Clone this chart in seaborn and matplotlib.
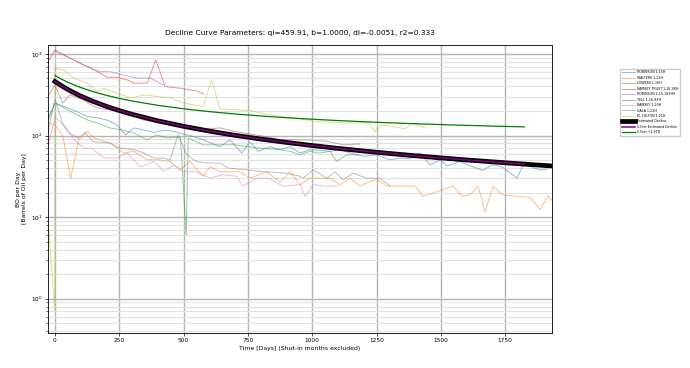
import numpy as np
import pandas as pd
import matplotlib
matplotlib.use("Agg")
import matplotlib.pyplot as plt
import seaborn as sns
from matplotlib.ticker import LogLocator, NullFormatter

# --------------------------------------------------------------------------------
# Data
# --------------------------------------------------------------------------------
WELLS = ["ROBINSON 1-15H", "WALTERS 1-22H", "LOWERS 1-16H", "RAMSEY TRUST 1-16-9XH",
         "ROBINSON 2-15-10XHS", "YELL 1-16-9XH", "RAMSEY 1-10H", "GALA 1-22H", "KL FULTON 1-21H"]

robinson_days = [-30, 0, 35, 87, 126, 165, 202, 241, 275, 307, 346, 385, 424, 463, 500, 540, 576, 641, 680,
                 726, 758, 790, 836, 875, 914, 953, 991, 1030, 1069, 1108, 1147, 1198, 1250, 1302, 1341, 1380,
                 1419, 1458, 1497, 1524, 1575, 1614, 1664, 1700, 1740, 1796, 1827, 1860, 1886, 1913]
robinson_rate = [155, 250, 227, 196, 171, 165, 155, 135, 102, 124, 117, 109, 117, 112, 104, 97, 88.6, 73, 88.6,
                 61, 84, 64, 73, 67, 73, 61, 67, 66, 64, 67, 61, 55.6, 58, 50.4, 53, 52,
                 61, 43.7, 50.4, 42.5, 48, 42.5, 37.4, 44, 41, 30, 48, 40, 38, 38.6]

walters_days = [-30, 0, 30, 61, 93, 126, 152, 214, 268, 307, 358, 405, 447, 486, 525, 576, 602, 641, 719, 758,
                823, 875, 914, 953, 991, 1030, 1069, 1108, 1147, 1186, 1220, 1251, 1290, 1340, 1400, 1431, 1485,
                1548, 1583, 1614, 1645, 1672, 1703, 1738, 1800, 1847, 1886, 1917, 1940]
walters_rate = [145, 135, 100, 30, 88.6, 112, 93, 81, 61, 64, 50.4, 50.4, 48, 38, 48, 31.6, 41.6, 36, 36, 30,
                36, 27, 36, 25, 30, 30, 30, 25, 30, 24, 27, 29, 24, 24, 24, 18, 20.5,
                24, 18, 18.8, 24, 11.7, 24, 18.8, 18, 17.5, 12.3, 18.4, 15]

lowers_days = [-30, 0, 35, 87, 126, 165, 214, 257, 307, 358, 396, 435, 463, 488, 510, 518, 576, 641, 700, 745,
               800, 875, 914, 953, 991, 1030, 1069, 1095, 1134, 1178]
lowers_rate = [140, 250, 218, 179, 155, 142, 124, 117, 107, 88.6, 102, 93, 95, 95, 6, 93, 77, 77, 77, 73,
               70, 67, 64, 58, 64, 61, 64, 48, 58, 58]

ramsey_trust_days = [-30, 0, 35, 87, 126, 165, 202, 241, 280, 307, 358, 392, 428, 486, 551, 578]
ramsey_trust_rate = [770, 1120, 970, 805, 700, 607, 518, 518, 481, 438, 438, 845, 398, 380, 352, 324]

robinson2_days = [0, 55, 109, 175, 214, 265, 318, 370, 420]
robinson2_rate = [1080, 900, 734, 607, 607, 553, 505, 505, 417]

yell_days = [-30, 0, 30, 58, 109, 163, 214, 280, 343, 409, 470, 530, 590, 641, 700, 760, 820, 875, 933, 991,
             1057, 1120, 1186]
yell_rate = [290, 417, 250, 315, 273, 218, 206, 196, 155, 142, 132, 125, 120, 124, 112, 104, 97, 88.6, 88.6, 88,
             85, 77, 79]

ramsey_days = [-30, 0, 31, 64, 87, 116, 141, 192, 241, 280, 333, 385, 424, 463, 498, 551, 602, 650, 706, 731,
               784, 830, 887, 953, 972, 1004, 1050, 1097]
ramsey_rate = [66.8, 171, 135, 98, 81, 70, 70, 53, 53, 61, 41.6, 48, 36.4, 43.7, 36, 36, 30, 33, 31.6, 24,
               30, 30, 24, 25, 18, 25, 24, 24]

gala_days = [-30, 0, 30, 58, 90, 116, 149, 214, 253, 307, 346, 385, 424, 447, 478, 512, 551, 590, 641, 673,
             745, 797, 901, 953, 965, 1004, 1057, 1088, 1120, 1159, 1213, 1264, 1302]
gala_rate = [98, 280, 140, 107, 93, 109, 84, 81, 70, 67, 61, 53, 53, 50, 102, 58, 48, 46, 46, 40,
             38, 36.4, 34.6, 31.6, 30, 38, 30, 36, 28.6, 34.6, 30, 30, 24]

fulton_days = [-30, -1, 0, 35, 74, 126, 165, 191, 241, 296, 346, 396, 451, 498, 576, 609, 641, 700, 758, 836,
               886, 950, 1022, 1128, 1217, 1244, 1271, 1361, 1388, 1439]
fulton_rate = [13, 0.72, 668, 637, 505, 438, 346, 380, 330, 287, 315, 300, 290, 250, 227, 481, 212, 207, 202, 179,
               171, 160, 148, 143, 143, 112, 135, 121, 143, 124]

# Fitted decline (qi=459.91, b=1, di=-0.0051) and +1 STD band
decline_days = [0, 25, 50, 75, 100, 150, 200, 250, 300, 400, 500, 600, 700, 800, 900, 1000, 1100, 1200,
                1300, 1400, 1500, 1600, 1700, 1825, 1950]
decline_rate = [459.9, 407.9, 366.5, 332.7, 304.6, 260.6, 227.7, 202.2, 181.8, 151.3, 129.6, 113.3, 100.6, 90.5,
                82.3, 75.4, 69.6, 64.6, 60.3, 56.5, 53.2, 50.2, 47.6, 44.6, 42.0]
std_rate = [543.0, 491.0, 449.5, 415.7, 387.6, 343.6, 310.7, 285.2, 264.8, 234.3, 212.6, 196.3, 183.6, 173.5,
            165.3, 158.4, 152.6, 147.6, 143.3, 139.5, 136.2, 133.2, 130.6, 127.6]

TITLE = "Decline Curve Parameters: qi=459.91, b=1.0000, di=-0.0051, r2=0.333"

# --------------------------------------------------------------------------------
# Long table for the well lines
# --------------------------------------------------------------------------------
series = [
    (robinson_days, robinson_rate), (walters_days, walters_rate), (lowers_days, lowers_rate),
    (ramsey_trust_days, ramsey_trust_rate), (robinson2_days, robinson2_rate), (yell_days, yell_rate),
    (ramsey_days, ramsey_rate), (gala_days, gala_rate), (fulton_days, fulton_rate),
]
df = pd.concat(
    [pd.DataFrame({"day": d, "rate": r, "well": w}) for w, (d, r) in zip(WELLS, series)],
    ignore_index=True,
)
palette = sns.color_palette("tab10", len(WELLS))

# --------------------------------------------------------------------------------
# Figure
# --------------------------------------------------------------------------------
fig = plt.figure(figsize=(6.9, 3.68), dpi=100)
ax = fig.add_axes([0.0696, 0.095, 0.7304, 0.783])

for (w, c) in zip(WELLS, palette):
    sub = df[df["well"] == w]
    sns.lineplot(data=sub, x="day", y="rate", ax=ax, color=c, alpha=0.5, linewidth=0.7,
                 sort=False, estimator=None, label=w)

sns.lineplot(x=decline_days, y=decline_rate, ax=ax, color="black", linewidth=3.4,
             sort=False, estimator=None, label="Estimated Decline")
sns.lineplot(x=decline_days[:-1], y=decline_rate[:-1], ax=ax, color="purple", linewidth=1.1,
             sort=False, estimator=None, label="5-Year Estimated Decline")
sns.lineplot(x=decline_days[:-1], y=std_rate, ax=ax, color="green", linewidth=0.9,
             sort=False, estimator=None, label="5-Year +1 STD")

ax.set_yscale("log")
ax.set_xlim(-27, 1932)
ax.set_ylim(0.38, 1290)
ax.set_xticks([0, 250, 500, 750, 1000, 1250, 1500, 1750])
ax.yaxis.set_minor_locator(LogLocator(base=10, subs=np.arange(2, 10), numticks=20))
ax.yaxis.set_minor_formatter(NullFormatter())

# Grid
ax.grid(which="major", color="#b4b4b4", linewidth=1.0)
ax.grid(which="minor", axis="y", color="#e2e2e2", linewidth=0.8)
ax.set_axisbelow(True)

# Text
ax.set_title(TITLE, fontsize=5.4, pad=7)
ax.set_xlabel("Time [Days] (Shut-in months excluded)", fontsize=4.4, labelpad=2)
ax.set_ylabel("BO per Day\n[Barrels of Oil per Day]", fontsize=4.4, labelpad=3)
ax.tick_params(axis="both", which="major", labelsize=4.2, length=2, width=0.5, pad=1.5)
ax.tick_params(axis="both", which="minor", length=1.2, width=0.4)
for s in ax.spines.values():
    s.set_linewidth(0.6)

# Legend outside, right
handles, labels = ax.get_legend_handles_labels()
ax.legend(handles, labels, loc="upper left", bbox_to_anchor=(0.896, 0.818),
          bbox_transform=fig.transFigure, fontsize=2.3, frameon=True, framealpha=1,
          edgecolor="#cccccc", handlelength=4, borderpad=0.6, labelspacing=0.45)

fig.savefig("out.png", dpi=100)
